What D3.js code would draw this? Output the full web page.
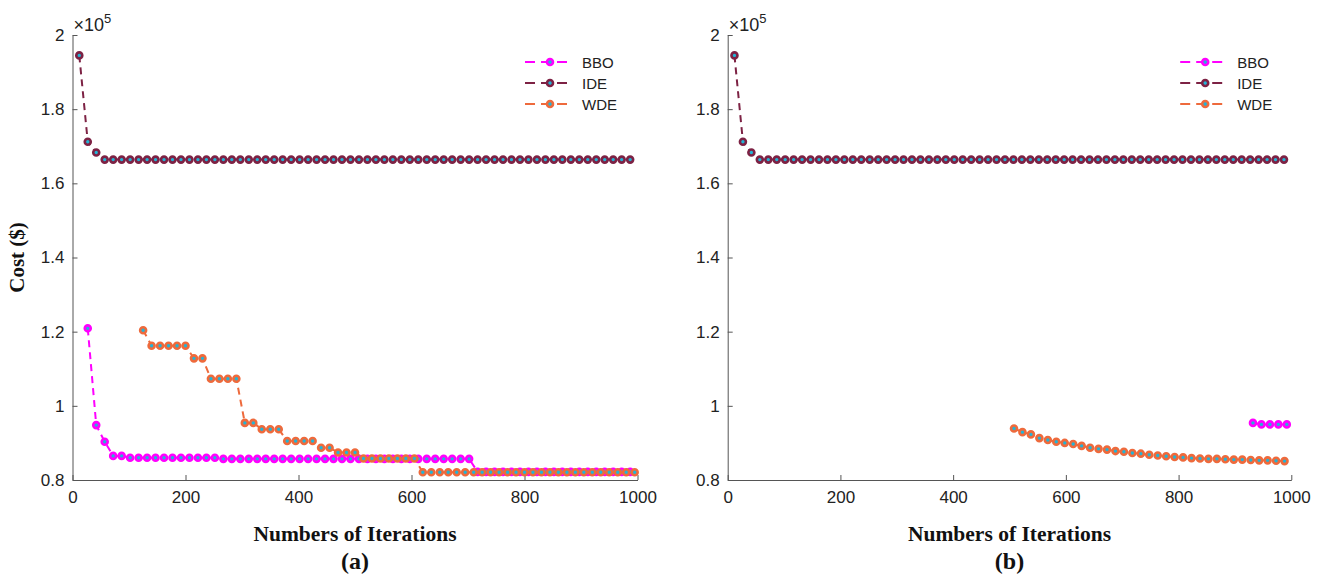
<!DOCTYPE html>
<html>
<head>
<meta charset="utf-8">
<script src="https://cdn.jsdelivr.net/npm/d3@7"></script>
<style>
  body { margin: 0; background: #fff; }
  svg { display: block; }
</style>
</head>
<body>
<svg id="chart"></svg>
<script>
const svg = d3.select("#chart");

const width = 1324;
const height = 575;

svg.attr("width", width).attr("height", height);

// Cost values are in units of 10^5 $
// iterations where IDE / BBO markers sit
const iterA = [12, 27, 42, 57, 72, 87, 102, 117, 132, 147,
               162, 177, 192, 207, 222, 237, 252, 267, 282, 297,
               312, 327, 342, 357, 372, 387, 402, 417, 432, 447,
               462, 477, 492, 507, 522, 537, 552, 567, 582, 597,
               612, 627, 642, 657, 672, 687, 702, 717, 732, 747,
               762, 777, 792, 807, 822, 837, 852, 867, 882, 897,
               912, 927, 942, 957, 972, 987];

const ideCost = [1.945, 1.712, 1.683, 1.664, 1.664, 1.664, 1.664, 1.664, 1.664, 1.664,
                 1.664, 1.664, 1.664, 1.664, 1.664, 1.664, 1.664, 1.664, 1.664, 1.664,
                 1.664, 1.664, 1.664, 1.664, 1.664, 1.664, 1.664, 1.664, 1.664, 1.664,
                 1.664, 1.664, 1.664, 1.664, 1.664, 1.664, 1.664, 1.664, 1.664, 1.664,
                 1.664, 1.664, 1.664, 1.664, 1.664, 1.664, 1.664, 1.664, 1.664, 1.664,
                 1.664, 1.664, 1.664, 1.664, 1.664, 1.664, 1.664, 1.664, 1.664, 1.664,
                 1.664, 1.664, 1.664, 1.664, 1.664, 1.664];

const bboCostA = [null, 1.209, 0.948, 0.903, 0.865, 0.865, 0.860, 0.860, 0.860, 0.860,
                  0.860, 0.860, 0.860, 0.860, 0.860, 0.860, 0.860, 0.857, 0.857, 0.857,
                  0.857, 0.857, 0.857, 0.857, 0.857, 0.857, 0.857, 0.857, 0.857, 0.857,
                  0.857, 0.857, 0.857, 0.857, 0.857, 0.857, 0.857, 0.857, 0.857, 0.857,
                  0.857, 0.857, 0.857, 0.857, 0.857, 0.857, 0.857, 0.822, 0.822, 0.822,
                  0.822, 0.822, 0.822, 0.822, 0.822, 0.822, 0.822, 0.822, 0.822, 0.822,
                  0.822, 0.822, 0.822, 0.822, 0.822, 0.822];

const iterWdeA = [125, 140, 155, 170, 185, 200, 215, 230, 245, 260,
                  275, 290, 305, 320, 335, 350, 365, 380, 395, 410,
                  425, 440, 455, 470, 485, 500, 515, 530, 545, 560,
                  575, 590, 605, 620, 635, 650, 665, 680, 695, 710,
                  725, 740, 755, 770, 785, 800, 815, 830, 845, 860,
                  875, 890, 905, 920, 935, 950, 965, 980, 995];

const wdeCostA = [1.204, 1.162, 1.162, 1.162, 1.162, 1.162, 1.128, 1.128, 1.073, 1.073,
                  1.073, 1.073, 0.954, 0.954, 0.937, 0.937, 0.937, 0.905, 0.905, 0.905,
                  0.905, 0.887, 0.887, 0.874, 0.874, 0.874, 0.858, 0.858, 0.858, 0.858,
                  0.858, 0.858, 0.858, 0.821, 0.821, 0.821, 0.821, 0.821, 0.821, 0.821,
                  0.821, 0.821, 0.821, 0.821, 0.821, 0.821, 0.821, 0.821, 0.821, 0.821,
                  0.821, 0.821, 0.821, 0.821, 0.821, 0.821, 0.821, 0.821, 0.821];

const iterWdeB = [508, 523, 538, 553, 568, 583, 598, 613, 628, 643,
                  658, 673, 688, 703, 718, 733, 748, 763, 778, 793,
                  808, 823, 838, 853, 868, 883, 898, 913, 928, 943,
                  958, 973, 988];

const wdeCostB = [0.939, 0.929, 0.923, 0.913, 0.908, 0.903, 0.900, 0.897, 0.892, 0.887,
                  0.884, 0.882, 0.878, 0.876, 0.873, 0.871, 0.868, 0.866, 0.864, 0.862,
                  0.861, 0.859, 0.858, 0.857, 0.857, 0.856, 0.855, 0.855, 0.854, 0.853,
                  0.853, 0.852, 0.851];

const iterBboB = [932, 947, 962, 977, 992];
const bboCostB = [0.954, 0.950, 0.950, 0.950, 0.950];

const xTicks = [0, 200, 400, 600, 800, 1000];
const yTicks = [0.8, 1, 1.2, 1.4, 1.6, 1.8, 2];
const yTickLabels = ["0.8", "1", "1.2", "1.4", "1.6", "1.8", "2"];

const seriesNames = ["BBO", "IDE", "WDE"];
const colors = { BBO: "#ff00ff", IDE: "#7d2244", WDE: "#ee6a3c" };
const markerFill = "#22b4d6";

const zip = (xs, ys) => xs.map((x, i) => ({ x: x, v: ys[i] }));

const panels = [
    { left: 72.5, right: 637.5, tag: "(a)", showYLabel: true,
      series: { BBO: zip(iterA, bboCostA), IDE: zip(iterA, ideCost), WDE: zip(iterWdeA, wdeCostA) } },
    { left: 727.7, right: 1291.3, tag: "(b)", showYLabel: false,
      series: { BBO: zip(iterBboB, bboCostB), IDE: zip(iterA, ideCost), WDE: zip(iterWdeB, wdeCostB) } }
];

const plotTop = 35, plotBottom = 480;

const y = d3.scaleLinear().domain([0.8, 2]).range([plotBottom, plotTop]);

panels.forEach(p => {
    const x = d3.scaleLinear().domain([0, 1000]).range([p.left, p.right]);
    const g = svg.append("g");

    // axes (MATLAB style, ticks pointing inward)
    const xAxis = g.append("g")
        .attr("transform", `translate(0,${plotBottom})`)
        .call(d3.axisBottom(x).tickValues(xTicks).tickFormat(d3.format("d"))
              .tickSizeInner(-5).tickSizeOuter(0).tickPadding(11));
    const yAxis = g.append("g")
        .attr("transform", `translate(${p.left},0)`)
        .call(d3.axisLeft(y).tickValues(yTicks).tickFormat((d, i) => yTickLabels[i])
              .tickSizeInner(-5).tickSizeOuter(0).tickPadding(8));

    [xAxis, yAxis].forEach(a => {
        a.select(".domain").attr("stroke", "#555").attr("stroke-width", 1);
        a.selectAll(".tick line").attr("stroke", "#555");
        a.selectAll(".tick text")
            .attr("font-family", "'Liberation Sans', Arial, sans-serif")
            .attr("font-size", "17px")
            .attr("fill", "#222");
    });

    // x10^5 exponent label
    const expo = g.append("text")
        .attr("x", p.left + 1)
        .attr("y", 31)
        .attr("font-family", "'Liberation Sans', Arial, sans-serif")
        .attr("font-size", "18px")
        .attr("fill", "#222");
    expo.append("tspan").text("\u00d710");
    expo.append("tspan").attr("dy", -8).attr("font-size", "13px").text("5");

    const line = d3.line()
        .defined(d => d.v != null)
        .x(d => x(d.x))
        .y(d => y(d.v));

    seriesNames.forEach(name => {
        const data = p.series[name].filter(d => d.v != null);
        g.append("path")
            .datum(p.series[name])
            .attr("d", line)
            .attr("fill", "none")
            .attr("stroke", colors[name])
            .attr("stroke-width", 2)
            .attr("stroke-dasharray", "7,5");

        g.selectAll(null)
            .data(data)
            .enter()
            .append("circle")
            .attr("cx", d => x(d.x))
            .attr("cy", d => y(d.v))
            .attr("r", 3)
            .attr("fill", markerFill)
            .attr("stroke", colors[name])
            .attr("stroke-width", 2.6);
    });

    // legend
    const lg = g.append("g").attr("transform", `translate(${p.left + 452.5},62)`);
    seriesNames.forEach((name, i) => {
        const row = lg.append("g").attr("transform", `translate(0,${i * 21})`);
        row.append("line")
            .attr("x1", 0).attr("x2", 42)
            .attr("y1", 0).attr("y2", 0)
            .attr("stroke", colors[name])
            .attr("stroke-width", 2)
            .attr("stroke-dasharray", "10,6");
        row.append("circle")
            .attr("cx", 25).attr("cy", 0).attr("r", 3)
            .attr("fill", markerFill)
            .attr("stroke", colors[name])
            .attr("stroke-width", 2.6);
        row.append("text")
            .attr("x", 57)
            .attr("y", 5.5)
            .attr("font-family", "'Liberation Sans', Arial, sans-serif")
            .attr("font-size", "15px")
            .attr("fill", "#222")
            .text(name);
    });

    const cx = (p.left + p.right) / 2;

    g.append("text")
        .attr("x", cx)
        .attr("y", 541)
        .attr("text-anchor", "middle")
        .attr("font-family", "'Liberation Serif', 'Times New Roman', serif")
        .attr("font-weight", "bold")
        .attr("font-size", "21.5px")
        .attr("fill", "#111")
        .text("Numbers of Iterations");

    g.append("text")
        .attr("x", cx)
        .attr("y", 569)
        .attr("text-anchor", "middle")
        .attr("font-family", "'Liberation Serif', 'Times New Roman', serif")
        .attr("font-weight", "bold")
        .attr("font-size", "24px")
        .attr("fill", "#111")
        .text(p.tag);

    if (p.showYLabel) {
        g.append("text")
            .attr("transform", `translate(24,${(plotTop + plotBottom) / 2}) rotate(-90)`)
            .attr("text-anchor", "middle")
            .attr("font-family", "'Liberation Serif', 'Times New Roman', serif")
            .attr("font-weight", "bold")
            .attr("font-size", "21px")
            .attr("fill", "#111")
            .text("Cost ($)");
    }
});
</script>
</body>
</html>
